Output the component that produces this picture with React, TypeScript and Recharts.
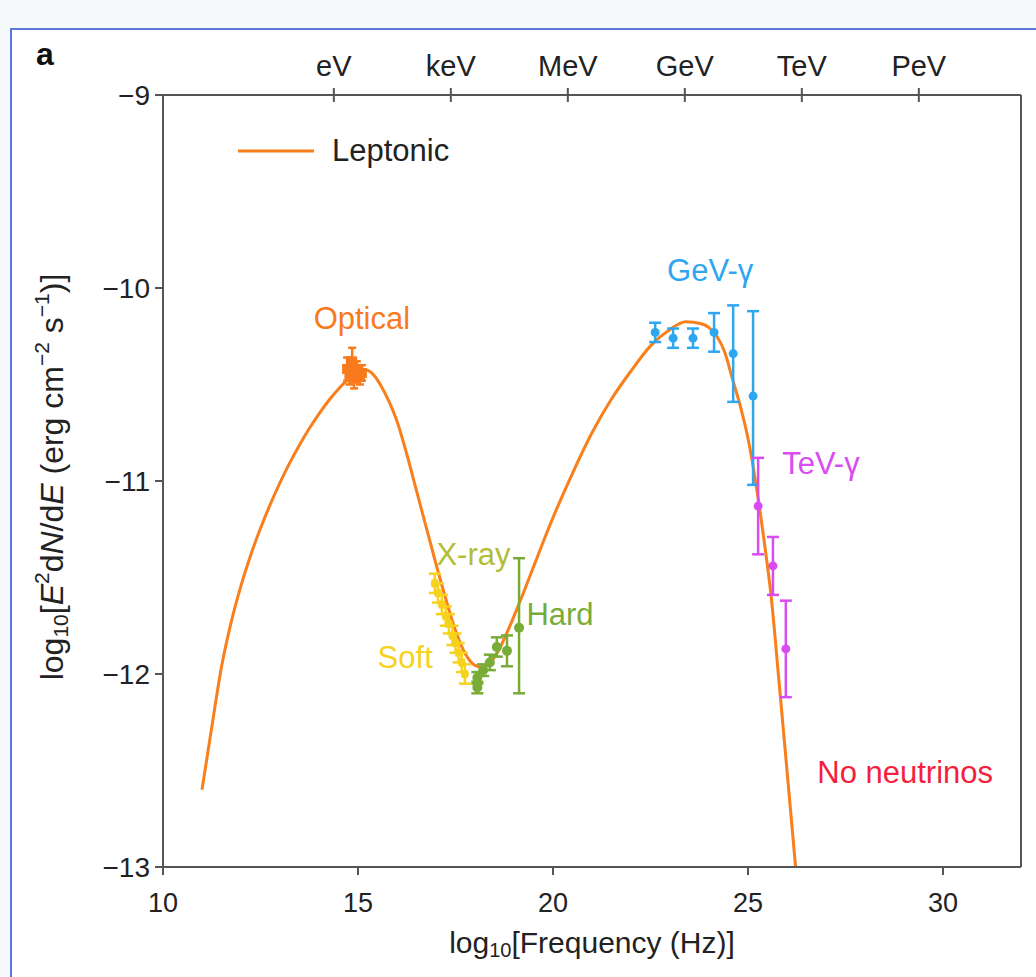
import React from 'react';
import {
  ComposedChart, Line, Scatter, XAxis, YAxis, ErrorBar, ReferenceLine, ReferenceDot, Legend,
} from 'recharts';

// Leptonic model curve
const curveX = [
  11.0, 11.25, 11.5, 11.75, 12.0, 12.25, 12.5, 12.75, 13.0, 13.25, 13.5, 13.75, 14.0, 14.25, 14.5, 14.75, 15.0, 15.2,
  15.4, 15.6, 15.8, 16.0, 16.25, 16.5, 16.75, 17.0, 17.25, 17.5, 17.75, 18.0, 18.2,
  18.4, 18.6, 18.8, 19.0, 19.25, 19.5, 19.75, 20.0, 20.5, 21.0, 21.5, 22.0, 22.5, 23.0, 23.4,
  23.8, 24.0, 24.2, 24.4, 24.6, 24.8, 25.0, 25.2, 25.4, 25.6, 25.8, 26.0, 26.22,
];
const curveY = [
  -12.6, -12.276, -11.963, -11.73, -11.542, -11.383, -11.245, -11.121, -11.008, -10.906, -10.813, -10.728, -10.652, -10.583, -10.523, -10.472, -10.436, -10.425,
  -10.45, -10.51, -10.59, -10.69, -10.86, -11.05, -11.24, -11.43, -11.61, -11.775, -11.895, -11.955, -11.965,
  -11.94, -11.88, -11.795, -11.7, -11.575, -11.445, -11.315, -11.19, -10.96, -10.75, -10.575, -10.43, -10.3, -10.215, -10.175,
  -10.185, -10.205, -10.25, -10.33, -10.47, -10.61, -10.78, -11.01, -11.29, -11.61, -12.05, -12.5, -13.0,
];

// Optical
const optX = [14.72, 14.78, 14.85, 14.9, 14.97, 15.05, 15.1];
const optY = [-10.42, -10.45, -10.38, -10.47, -10.43, -10.46, -10.44];
const optErr = [0.06, 0.05, 0.07, 0.05, 0.05, 0.04, 0.04];

// Soft X-ray
const softX = [16.97, 17.05, 17.15, 17.25, 17.33, 17.42, 17.5, 17.58, 17.66, 17.74];
const softY = [-11.53, -11.58, -11.64, -11.7, -11.74, -11.8, -11.84, -11.89, -11.94, -12.0];
const softErr = [0.05, 0.05, 0.05, 0.05, 0.05, 0.05, 0.05, 0.05, 0.05, 0.05];

// Hard X-ray
const hardX = [18.06, 18.06, 18.21, 18.38, 18.56, 18.82, 19.13];
const hardY = [-12.07, -12.02, -11.98, -11.94, -11.86, -11.88, -11.76];
const hardErrUp = [0.03, 0.03, 0.03, 0.04, 0.05, 0.08, 0.36];
const hardErrDown = [0.03, 0.03, 0.03, 0.04, 0.05, 0.08, 0.34];

// GeV gamma
const gevX = [22.62, 23.08, 23.59, 24.13, 24.62, 25.13];
const gevY = [-10.23, -10.26, -10.26, -10.23, -10.34, -10.56];
const gevErrUp = [0.05, 0.05, 0.05, 0.1, 0.25, 0.44];
const gevErrDown = [0.05, 0.05, 0.05, 0.1, 0.25, 0.46];

// TeV gamma
const tevX = [25.26, 25.64, 25.97];
const tevY = [-11.13, -11.44, -11.87];
const tevErrUp = [0.25, 0.15, 0.25];
const tevErrDown = [0.25, 0.15, 0.25];

// Axes
const bottomTicks = [10, 15, 20, 25, 30];
const leftTicks = [-13, -12, -11, -10, -9];
const energyTicks = [14.38, 17.38, 20.38, 23.38, 26.38, 29.38];
const energyLabels = ['eV', 'keV', 'MeV', 'GeV', 'TeV', 'PeV'];

const curveData = curveX.map((x, i) => ({ x, y: curveY[i] }));
const optData = optX.map((x, i) => ({ x, y: optY[i], ey: optErr[i], ex: 0.05 }));
const softData = softX.map((x, i) => ({ x, y: softY[i], ey: softErr[i], ex: 0.05 }));
const hardData = hardX.map((x, i) => ({ x, y: hardY[i], ey: [hardErrDown[i], hardErrUp[i]] }));
const gevData = gevX.map((x, i) => ({ x, y: gevY[i], ey: [gevErrDown[i], gevErrUp[i]] }));
const tevData = tevX.map((x, i) => ({ x, y: tevY[i], ey: [tevErrDown[i], tevErrUp[i]] }));

const C_CURVE = '#f97f1c';
const C_OPT = '#f97a1c';
const C_SOFT = '#f7d21c';
const C_XRAY = '#b4bd36';
const C_HARD = '#78ac36';
const C_GEV = '#2ea6f0';
const C_TEV = '#d84cf2';
const C_NU = '#f51e3c';
const AXIS = '#555';
const FONT = '"Liberation Sans", Arial, Helvetica, sans-serif';

const annotations = [
  { text: 'Optical', x: 15.1, y: -10.155, color: C_OPT },
  { text: 'X-ray', x: 17.96, y: -11.38, color: C_XRAY },
  { text: 'Soft', x: 16.21, y: -11.91, color: C_SOFT },
  { text: 'Hard', x: 20.18, y: -11.69, color: C_HARD },
  { text: 'GeV-\u03b3', x: 24.03, y: -9.907, color: C_GEV },
  { text: 'TeV-\u03b3', x: 26.87, y: -10.907, color: C_TEV },
  { text: 'No neutrinos', x: 29.03, y: -12.51, color: C_NU },
];

const circleShape = (color: string, r: number) => (p: any) => (
  <circle cx={p.cx} cy={p.cy} r={r} fill={color} />
);
const squareShape = (color: string) => (p: any) => (
  <rect x={p.cx - 5} y={p.cy - 5} width={10} height={10} fill={color} />
);

const TopTick = (props: any) => {
  const { x, y, payload } = props;
  const idx = energyTicks.indexOf(payload.value);
  return (
    <g>
      <line x1={x} x2={x} y1={y - 7} y2={y + 7} stroke={AXIS} strokeWidth={2} />
      <text x={x} y={y - 19} textAnchor="middle" fontSize={29} fill="#222" fontFamily={FONT}>
        {energyLabels[idx]}
      </text>
    </g>
  );
};

const YLabel = (props: any) => {
  const vb = props.viewBox || { x: 83, y: 95, width: 80, height: 772 };
  const cx = vb.x - 28;
  const cy = vb.y + vb.height / 2 - 4;
  return (
    <text
      x={cx}
      y={cy}
      transform={`rotate(-90, ${cx}, ${cy})`}
      textAnchor="middle"
      dominantBaseline="middle"
      fontSize={32}
      fill="#222"
      fontFamily={FONT}
    >
      <tspan>log</tspan>
      <tspan dy={7} fontSize={21}>10</tspan>
      <tspan dy={-7}>[</tspan>
      <tspan fontStyle="italic">E</tspan>
      <tspan dy={-12} fontSize={21}>2</tspan>
      <tspan dy={12}>d</tspan>
      <tspan fontStyle="italic">N</tspan>
      <tspan>/d</tspan>
      <tspan fontStyle="italic">E</tspan>
      <tspan> (erg cm</tspan>
      <tspan dy={-12} fontSize={21}>{'\u22122'}</tspan>
      <tspan dy={12}> s</tspan>
      <tspan dy={-12} fontSize={21}>{'\u22121'}</tspan>
      <tspan dy={12}>)]</tspan>
    </text>
  );
};

const XLabel = (props: any) => {
  const vb = props.viewBox || { x: 163, y: 867, width: 858, height: 40 };
  const cx = vb.x + vb.width / 2;
  const cy = vb.y + 78;
  return (
    <text x={cx} y={cy} textAnchor="middle" dominantBaseline="middle" fontSize={30} fill="#222" fontFamily={FONT}>
      <tspan>log</tspan>
      <tspan dy={7} fontSize={20}>10</tspan>
      <tspan dy={-7}>[Frequency (Hz)]</tspan>
    </text>
  );
};

const LegendContent = (props: any) => {
  const items = (props.payload || []).filter((p: any) => p.value === 'Leptonic');
  return (
    <div style={{ display: 'flex', flexDirection: 'column' }}>
      {items.map((it: any) => (
        <div key={it.value} style={{ display: 'flex', alignItems: 'center' }}>
          <svg width={76} height={6}>
            <line x1={0} x2={76} y1={3} y2={3} stroke={C_CURVE} strokeWidth={3} />
          </svg>
          <span style={{ marginLeft: 18, fontSize: 31, lineHeight: '36px', color: '#222', fontFamily: FONT }}>{it.value}</span>
        </div>
      ))}
    </div>
  );
};

const fmtY = (v: number) => (v < 0 ? '\u2212' + Math.abs(v) : String(v));

export default function App() {
  return (
    <div style={{ position: 'absolute', left: 0, top: 0, width: 1036, height: 977, background: '#f7fafd', overflow: 'hidden', fontFamily: FONT }}>
      <div style={{ position: 'absolute', left: 10, top: 28, right: 0, bottom: 0, borderLeft: '2px solid #5b79d8', borderTop: '2px solid #5b79d8', background: '#ffffff' }} />
      <div style={{ position: 'absolute', left: 36, top: 36, fontSize: 32, fontWeight: 'bold', color: '#111', lineHeight: '36px' }}>a</div>
      <div style={{ position: 'absolute', left: 0, top: 0 }}>
        <ComposedChart width={1036} height={977} margin={{ top: 65, right: 15, bottom: 70, left: 83 }}>
          <XAxis
            xAxisId={0}
            dataKey="x"
            type="number"
            domain={[10, 32]}
            ticks={bottomTicks}
            allowDataOverflow
            height={40}
            tickSize={8}
            tickMargin={18}
            stroke={AXIS}
            strokeWidth={2}
            tick={{ fontSize: 27, fill: '#222', fontFamily: FONT }}
            label={{ content: (p: any) => <XLabel {...p} /> }}
          />
          <XAxis
            xAxisId="top"
            dataKey="x"
            orientation="top"
            type="number"
            domain={[10, 32]}
            ticks={energyTicks}
            allowDataOverflow
            height={30}
            tickSize={0}
            tickMargin={0}
            tickLine={false}
            stroke={AXIS}
            strokeWidth={2}
            tick={<TopTick />}
          />
          <YAxis
            dataKey="y"
            type="number"
            domain={[-13, -9]}
            ticks={leftTicks}
            allowDataOverflow
            width={80}
            tickSize={8}
            tickMargin={5}
            stroke={AXIS}
            strokeWidth={2}
            tickFormatter={fmtY}
            tick={{ fontSize: 28, fill: '#222', fontFamily: FONT }}
            label={{ content: (p: any) => <YLabel {...p} /> }}
          />
          <ReferenceLine x={32} stroke={AXIS} strokeWidth={2} />
          <Legend
            layout="horizontal"
            verticalAlign="middle"
            align="center"
            content={<LegendContent />}
            wrapperStyle={{ position: 'absolute', left: 238, top: 133, width: 'auto' }}
          />
          <Line
            xAxisId="top"
            data={curveData}
            dataKey="y"
            name="hidden"
            legendType="none"
            type="monotone"
            stroke="none"
            dot={false}
            activeDot={false}
            isAnimationActive={false}
          />
          <Line
            data={curveData}
            dataKey="y"
            name="Leptonic"
            type="monotone"
            stroke={C_CURVE}
            strokeWidth={3}
            dot={false}
            activeDot={false}
            isAnimationActive={false}
          />
          <Scatter data={optData} dataKey="y" legendType="none" shape={squareShape(C_OPT)} isAnimationActive={false}>
            <ErrorBar dataKey="ey" direction="y" width={4} stroke={C_OPT} strokeWidth={2.5} />
            <ErrorBar dataKey="ex" direction="x" width={4} stroke={C_OPT} strokeWidth={2.5} />
          </Scatter>
          <Scatter data={softData} dataKey="y" legendType="none" shape={circleShape(C_SOFT, 4)} isAnimationActive={false}>
            <ErrorBar dataKey="ey" direction="y" width={6} stroke={C_SOFT} strokeWidth={2.5} />
            <ErrorBar dataKey="ex" direction="x" width={4} stroke={C_SOFT} strokeWidth={2.5} />
          </Scatter>
          <Scatter data={hardData} dataKey="y" legendType="none" shape={circleShape(C_HARD, 5)} isAnimationActive={false}>
            <ErrorBar dataKey="ey" direction="y" width={6} stroke={C_HARD} strokeWidth={2.5} />
          </Scatter>
          <Scatter data={gevData} dataKey="y" legendType="none" shape={circleShape(C_GEV, 4.5)} isAnimationActive={false}>
            <ErrorBar dataKey="ey" direction="y" width={6} stroke={C_GEV} strokeWidth={2.5} />
          </Scatter>
          <Scatter data={tevData} dataKey="y" legendType="none" shape={circleShape(C_TEV, 4.5)} isAnimationActive={false}>
            <ErrorBar dataKey="ey" direction="y" width={6} stroke={C_TEV} strokeWidth={2.5} />
          </Scatter>
          {annotations.map((a) => (
            <ReferenceDot
              key={a.text}
              x={a.x}
              y={a.y}
              r={0}
              fill="none"
              stroke="none"
              label={{ value: a.text, position: 'center', fill: a.color, fontSize: 31, fontFamily: FONT }}
            />
          ))}
        </ComposedChart>
      </div>
    </div>
  );
}
